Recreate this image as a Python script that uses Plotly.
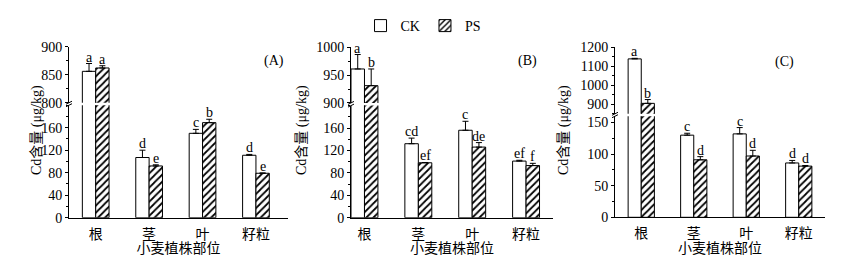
import plotly.graph_objects as go

# ---------------- data ----------------
categories = ["根", "茎", "叶", "籽粒"]

a_ck = [856, 107, 150, 111]
a_ck_err = [14, 13, 7, 1.5]
a_ps = [862, 92, 169, 79]
a_ps_err = [4, 2, 6, 0.5]
a_ck_sig = ["a", "d", "c", "d"]
a_ps_sig = ["a", "e", "b", "e"]

b_ck = [961, 132, 156, 101]
b_ck_err = [26, 10, 16, 1.5]
b_ps = [931, 98, 126, 93]
b_ps_err = [30, 0.5, 8, 4]
b_ck_sig = ["a", "cd", "c", "ef"]
b_ps_sig = ["b", "ef", "de", "f"]

c_ck = [1139, 130, 132, 86]
c_ck_err = [3, 3, 10, 4]
c_ps = [905, 91, 97, 81]
c_ps_err = [20, 5, 9, 1]
c_ck_sig = ["a", "c", "c", "d"]
c_ps_sig = ["b", "d", "d", "d"]

a_low_ticks = [0, 40, 80, 120, 160]
a_up_ticks = [800, 850, 900]
b_low_ticks = [0, 40, 80, 120, 160]
b_up_ticks = [900, 950, 1000]
c_low_ticks = [0, 50, 100, 150]
c_up_ticks = [900, 1000, 1100, 1200]

# ---------------- layout geometry ----------------
W, H = 842, 265
FONT = "Liberation Serif, Times New Roman, Noto Sans CJK SC, serif"

def px(x):
    return x / W

def py(y):
    return 1 - y / H

panels = [
    dict(name="(A)", ck=a_ck, ckerr=a_ck_err, ps=a_ps, pserr=a_ps_err,
         cksig=a_ck_sig, pssig=a_ps_sig,
         xpx=(69, 288), xr=[-0.5, 3.6],
         low=dict(r=[0, 200], ticks=a_low_ticks, minor=20, py=(217.7, 105.2)),
         up=dict(r=[800, 900], ticks=a_up_ticks, minor=25, py=(102.7, 46.7)),
         lab=(262, 51), ytitle_x=27),
    dict(name="(B)", ck=b_ck, ckerr=b_ck_err, ps=b_ps, pserr=b_ps_err,
         cksig=b_ck_sig, pssig=b_ps_sig,
         xpx=(351, 553), xr=[-0.25, 3.5],
         low=dict(r=[0, 200], ticks=b_low_ticks, minor=20, py=(217.7, 105.6)),
         up=dict(r=[900, 1000], ticks=b_up_ticks, minor=25, py=(102.9, 47.3)),
         lab=(527, 51), ytitle_x=302),
    dict(name="(C)", ck=c_ck, ckerr=c_ck_err, ps=c_ps, pserr=c_ps_err,
         cksig=c_ck_sig, pssig=c_ps_sig,
         xpx=(615, 825), xr=[-0.5, 3.5],
         low=dict(r=[0, 160], ticks=c_low_ticks, minor=25, py=(217.3, 116.2)),
         up=dict(r=[850, 1200], ticks=c_up_ticks, minor=50, py=(113.8, 47.3)),
         lab=(796, 52), ytitle_x=574),
]

fig = go.Figure()
annotations = []
shapes = []
layout = {}

hatch = dict(shape="/", fgcolor="black", bgcolor="white", size=5, solidity=0.35)
tfont = dict(family=FONT, size=14, color="black")

for i, p in enumerate(panels):
    lo_idx = 2 * i + 1
    up_idx = 2 * i + 2
    xdom = [px(p["xpx"][0]), px(p["xpx"][1])]
    lo_x = "x" if lo_idx == 1 else f"x{lo_idx}"
    lo_y = "y" if lo_idx == 1 else f"y{lo_idx}"
    up_x = f"x{up_idx}"
    up_y = f"y{up_idx}"
    lo_key = "" if lo_idx == 1 else str(lo_idx)

    for seg, xa, ya in (("low", lo_x, lo_y), ("up", up_x, up_y)):
        show = (i == 0 and seg == "low")
        fig.add_trace(go.Bar(
            x=categories, y=p["ck"], name="CK", xaxis=xa, yaxis=ya,
            showlegend=show, legendgroup="CK",
            marker=dict(color="white", line=dict(color="black", width=1)),
            error_y=dict(type="data", symmetric=False, array=p["ckerr"],
                         arrayminus=[0] * 4, color="black", thickness=1, width=3),
        ))
        fig.add_trace(go.Bar(
            x=categories, y=p["ps"], name="PS", xaxis=xa, yaxis=ya,
            showlegend=show, legendgroup="PS",
            marker=dict(color="white", line=dict(color="black", width=1), pattern=hatch),
            error_y=dict(type="data", symmetric=False, array=p["pserr"],
                         arrayminus=[0] * 4, color="black", thickness=1, width=3),
        ))

    lo = p["low"]
    up = p["up"]
    layout[f"xaxis{lo_key}"] = dict(
        domain=xdom, range=p["xr"], anchor=lo_y, type="category",
        showline=True, linecolor="black", linewidth=1, ticks="",
        ticklabelstandoff=3,
        tickfont=tfont, showgrid=False, automargin=False,
        zeroline=False, fixedrange=True,
        title=dict(text="小麦植株部位", font=tfont, standoff=2),
    )
    layout[f"xaxis{up_idx}"] = dict(
        domain=xdom, range=p["xr"], anchor=up_y, matches=lo_x, type="category",
        visible=False, showgrid=False, automargin=False,
    )
    for key, seg, xa in ((f"yaxis{lo_key}", lo, lo_x), (f"yaxis{up_idx}", up, up_x)):
        layout[key] = dict(
            domain=[py(seg["py"][0]), py(seg["py"][1])], range=seg["r"], anchor=xa,
            tickvals=seg["ticks"], ticks="outside", ticklen=3, tickcolor="black",
            minor=dict(dtick=seg["minor"], tick0=0, ticks="outside", ticklen=2,
                       tickcolor="black"),
            showline=True, linecolor="black", linewidth=1, showgrid=False,
            zeroline=False, automargin=False, tickfont=tfont,
        )

    # significance letters
    catw = (p["xpx"][1] - p["xpx"][0]) / (p["xr"][1] - p["xr"][0])
    off = 0.125 * catw
    for vals, errs, sigs, sh in ((p["ck"], p["ckerr"], p["cksig"], -off),
                                 (p["ps"], p["pserr"], p["pssig"], off)):
        for c, v, e, s in zip(categories, vals, errs, sigs):
            top = v + e
            onup = v > lo["r"][1]
            annotations.append(dict(
                x=c, y=top, xref=up_x if onup else lo_x, yref=up_y if onup else lo_y,
                text=s, showarrow=False, xshift=sh, yanchor="bottom", yshift=-3,
                font=tfont,
            ))

    # panel label
    annotations.append(dict(x=px(p["lab"][0]), y=py(p["lab"][1]), xref="paper", yref="paper",
                            text=p["name"], showarrow=False, font=tfont))
    # y axis title
    annotations.append(dict(x=px(p["ytitle_x"]), y=py(130), xref="paper", yref="paper",
                            text="Cd含量 (μg/kg)", textangle=-90, showarrow=False,
                            font=tfont))

    # axis break marks
    ax = p["xpx"][0]
    for yb in (up["py"][0], lo["py"][1]):
        shapes.append(dict(type="line", xref="paper", yref="paper",
                           x0=px(ax - 3), y0=py(yb + 1.5), x1=px(ax + 3), y1=py(yb - 1.5),
                           line=dict(color="black", width=1)))

fig.update_layout(
    template="none",
    width=W, height=H, autosize=False,
    margin=dict(l=0, r=0, t=0, b=0, pad=0),
    paper_bgcolor="white", plot_bgcolor="white",
    barmode="group", bargap=0.5, bargroupgap=0,
    showlegend=True,
    legend=dict(orientation="h", x=0.503, xanchor="center", y=py(26), yanchor="middle",
                font=tfont, bgcolor="rgba(0,0,0,0)", itemwidth=30, tracegroupgap=0),
    annotations=annotations,
    shapes=shapes,
    **layout,
)

fig.write_html("out.html")
